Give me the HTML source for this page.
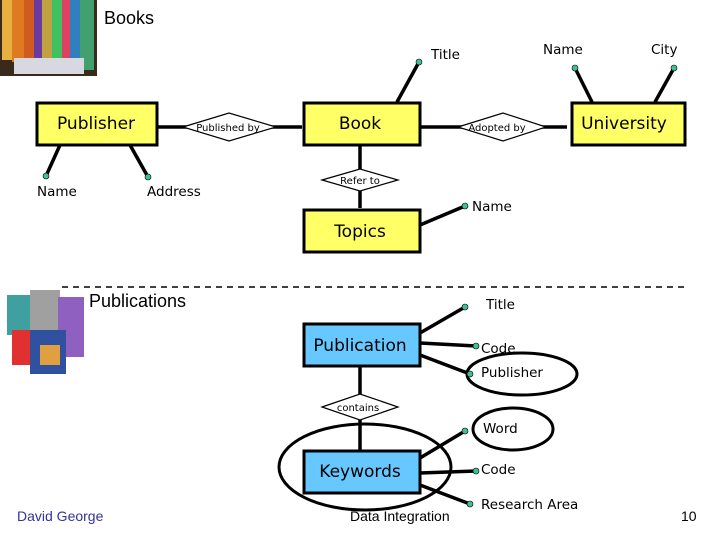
<!DOCTYPE html>
<html><head><meta charset="utf-8"><style>
html,body{margin:0;padding:0;background:#fff;width:720px;height:540px;overflow:hidden}
svg{display:block}
text{font-family:"DejaVu Sans","Liberation Sans",sans-serif}
</style></head><body>
<svg width="720" height="540" viewBox="0 0 720 540" xmlns="http://www.w3.org/2000/svg">
<!-- books photo -->
<rect x="0" y="0" width="97" height="76" fill="#3a2a1a"/>
<rect x="2" y="0" width="10" height="60" fill="#e8b040"/>
<rect x="12" y="0" width="12" height="62" fill="#e07a20"/>
<rect x="24" y="0" width="10" height="62" fill="#d05a20"/>
<rect x="34" y="0" width="8" height="60" fill="#6a3aa0"/>
<rect x="42" y="0" width="10" height="60" fill="#c0a040"/>
<rect x="52" y="0" width="10" height="62" fill="#40c060"/>
<rect x="62" y="0" width="8" height="62" fill="#e04060"/>
<rect x="70" y="0" width="10" height="62" fill="#3080c0"/>
<rect x="80" y="0" width="14" height="70" fill="#40a070"/>
<rect x="14" y="58" width="70" height="16" fill="#d8d8e0"/>
<text x="104" y="24" font-size="18" fill="#000" style="font-family:'Liberation Sans',sans-serif">Books</text>
<!-- publications image -->
<rect x="7" y="295" width="28" height="40" fill="#40a0a0"/>
<rect x="30" y="290" width="30" height="45" fill="#a0a0a0"/>
<rect x="58" y="297" width="26" height="60" fill="#9060c0"/>
<rect x="12" y="330" width="25" height="35" fill="#e03030"/>
<rect x="30" y="330" width="36" height="44" fill="#3050a0"/>
<rect x="40" y="345" width="20" height="20" fill="#e0a040"/>
<text x="89" y="307" font-size="18" fill="#000" style="font-family:'Liberation Sans',sans-serif">Publications</text>
<line x1="62" y1="287" x2="685" y2="287" stroke="#000" stroke-width="1.5" stroke-dasharray="6,5"/>

<g stroke="#000" stroke-width="3.5">
<line x1="157" y1="127" x2="302" y2="127"/>
<line x1="420" y1="127" x2="567" y2="127"/>
<line x1="360" y1="145" x2="360" y2="208"/>
<line x1="397" y1="102" x2="419" y2="62"/>
<line x1="592" y1="102" x2="575" y2="68"/>
<line x1="655" y1="102" x2="674" y2="68"/>
<line x1="60" y1="145" x2="46" y2="176"/>
<line x1="130" y1="145" x2="148" y2="177"/>
<line x1="420" y1="225" x2="465" y2="206"/>
<line x1="360" y1="367" x2="360" y2="450"/>
<line x1="420" y1="333" x2="465" y2="307"/>
<line x1="420" y1="343" x2="476" y2="346"/>
<line x1="420" y1="355" x2="470" y2="374"/>
<line x1="420" y1="458" x2="465" y2="431"/>
<line x1="420" y1="473" x2="476" y2="471"/>
<line x1="420" y1="485" x2="470" y2="504"/>
</g>
<g stroke="#000" stroke-width="1.2" fill="#fff">
<polygon points="183,127 229,113 276,127 229,141"/>
<polygon points="458,127 503,113 546,127 503,141"/>
<polygon points="322,180 360,169 398,180 360,191"/>
<polygon points="322,407 360,394 398,407 360,420"/>
</g>
<g font-size="10" fill="#000" text-anchor="middle" style="font-family:'Liberation Sans',sans-serif">
<text x="228" y="131">Published by</text>
<text x="497" y="131">Adopted by</text>
<text x="360" y="184">Refer to</text>
<text x="358" y="411">contains</text>
</g>
<g stroke="#000" stroke-width="3">
<rect x="37" y="103" width="120" height="42" fill="#ffff66"/>
<rect x="304" y="103" width="116" height="42" fill="#ffff66"/>
<rect x="572" y="103" width="113" height="42" fill="#ffff66"/>
<rect x="304" y="210" width="116" height="42" fill="#ffff66"/>
<rect x="304" y="324" width="116" height="42" fill="#66c8ff"/>
<rect x="304" y="451" width="116" height="42" fill="#66c8ff"/>
</g>
<g font-size="17" fill="#000" text-anchor="middle">
<text x="96" y="129">Publisher</text>
<text x="360" y="129">Book</text>
<text x="624" y="129">University</text>
<text x="360" y="237">Topics</text>
<text x="360" y="351">Publication</text>
<text x="360" y="477">Keywords</text>
</g>
<g fill="none" stroke="#000" stroke-width="3">
<ellipse cx="522" cy="374" rx="55" ry="21"/>
<ellipse cx="513" cy="429" rx="40" ry="21"/>
<ellipse cx="365" cy="467" rx="86" ry="43"/>
</g>
<g fill="#40c090" stroke="#000" stroke-width="0.6">
<circle cx="419" cy="62" r="3"/><circle cx="575" cy="68" r="3"/><circle cx="674" cy="68" r="3"/>
<circle cx="46" cy="176" r="3"/><circle cx="148" cy="177" r="3"/><circle cx="465" cy="206" r="3"/>
<circle cx="465" cy="307" r="3"/><circle cx="476" cy="346" r="3"/><circle cx="470" cy="374" r="3"/>
<circle cx="465" cy="431" r="3"/><circle cx="476" cy="471" r="3"/><circle cx="470" cy="504" r="3"/>
</g>
<g font-size="13.5" fill="#000">
<text x="431" y="59">Title</text>
<text x="543" y="54">Name</text>
<text x="651" y="54">City</text>
<text x="37" y="196">Name</text>
<text x="147" y="196">Address</text>
<text x="472" y="211">Name</text>
<text x="486" y="309">Title</text>
<text x="481" y="353">Code</text>
<text x="481" y="377">Publisher</text>
<text x="483" y="433">Word</text>
<text x="481" y="474">Code</text>
<text x="481" y="509">Research Area</text>
</g>
<text x="17" y="521" font-size="14" fill="#333399" style="font-family:'Liberation Sans',sans-serif">David George</text>
<text x="350" y="521" font-size="14" fill="#000" style="font-family:'Liberation Sans',sans-serif">Data Integration</text>
<text x="681" y="521" font-size="14" fill="#000" style="font-family:'Liberation Sans',sans-serif">10</text>
</svg>
</body></html>
